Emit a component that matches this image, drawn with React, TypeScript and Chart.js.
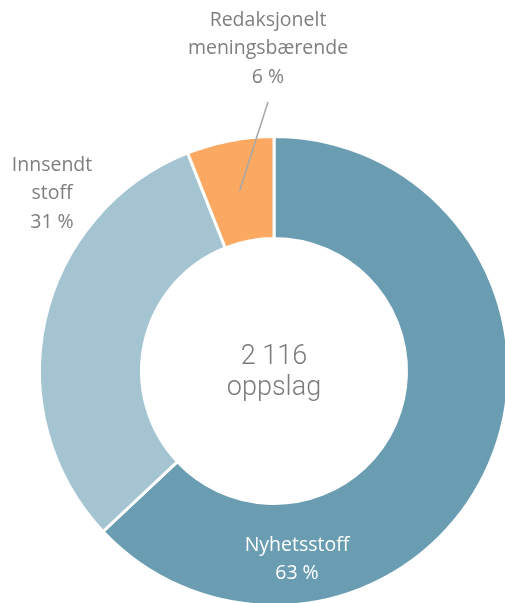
import React, { useEffect, useRef } from "react";
import { Chart, registerables } from "chart.js";

Chart.register(...registerables);

const categories = ["Nyhetsstoff", "Innsendt stoff", "Redaksjonelt meningsbærende"];
const shares = [63, 31, 6];
const labelLines = [["Nyhetsstoff", "63 %"], ["Innsendt", "stoff", "31 %"], ["Redaksjonelt", "meningsbærende", "6 %"]];
const centerLines = ["2 116", "oppslag"];
const colors = ["#6a9db1", "#a3c4d0", "#fba862"];

const W = 505;
const H = 603;

export default function App() {
  const ref = useRef<HTMLCanvasElement | null>(null);
  useEffect(() => {
    if (!ref.current) return;
    const labelPlugin = {
      id: "labels",
      afterDraw(chart: any) {
        const ctx = chart.ctx;
        const meta = chart.getDatasetMeta(0);
        const a0 = meta.data[0] as any;
        const cx = a0.x, cy = a0.y;
        ctx.save();
        ctx.textAlign = "center";
        ctx.textBaseline = "middle";
        // center text
        ctx.fillStyle = "#7b7b7b";
        ctx.font = "300 27px Roboto";
        ctx.fillText(centerLines[0], cx, cy - 14);
        ctx.fillText(centerLines[1], cx, cy + 17);
        ctx.font = "19.5px 'Open Sans'";
        const lh = 28.5;
        // Nyhetsstoff (inside)
        ctx.fillStyle = "#ffffff";
        labelLines[0].forEach((t, i) => ctx.fillText(t, cx + 23, cy + 174 + i * lh));
        // Innsendt stoff
        ctx.fillStyle = "#7f7f7f";
        labelLines[1].forEach((t, i) => ctx.fillText(t, cx - 222, cy - 206 + i * lh));
        // Redaksjonelt
        labelLines[2].forEach((t, i) => ctx.fillText(t, cx - 6, cy - 351 + i * lh));
        // leader line
        const a2 = meta.data[2] as any;
        const p = a2.getCenterPoint ? a2.getCenterPoint() : a2.tooltipPosition();
        ctx.strokeStyle = "#a6a6a6";
        ctx.lineWidth = 1.5;
        ctx.beginPath();
        ctx.moveTo(cx - 6, cy - 269);
        ctx.lineTo(p.x, p.y);
        ctx.stroke();
        ctx.restore();
      },
    };
    const chart = new Chart(ref.current, {
      type: "doughnut",
      data: {
        labels: categories,
        datasets: [
          {
            data: shares,
            backgroundColor: colors,
            borderColor: "#ffffff",
            borderWidth: 3,
          },
        ],
      },
      options: {
        responsive: false,
        animation: false,
        cutout: "56.5%",
        layout: { padding: { left: 38, top: 135, right: 540 - 38 - 472, bottom: 640 - 135 - 472 } },
        plugins: { legend: { display: false }, tooltip: { enabled: false } },
      },
      plugins: [labelPlugin],
    });
    return () => chart.destroy();
  }, []);
  return (
    <div style={{ position: "fixed", left: 0, top: 0, width: W, height: H, overflow: "hidden", background: "#fff" }}>
      <canvas ref={ref} width={540} height={640} style={{ width: 540, height: 640, display: "block" }} />
    </div>
  );
}
